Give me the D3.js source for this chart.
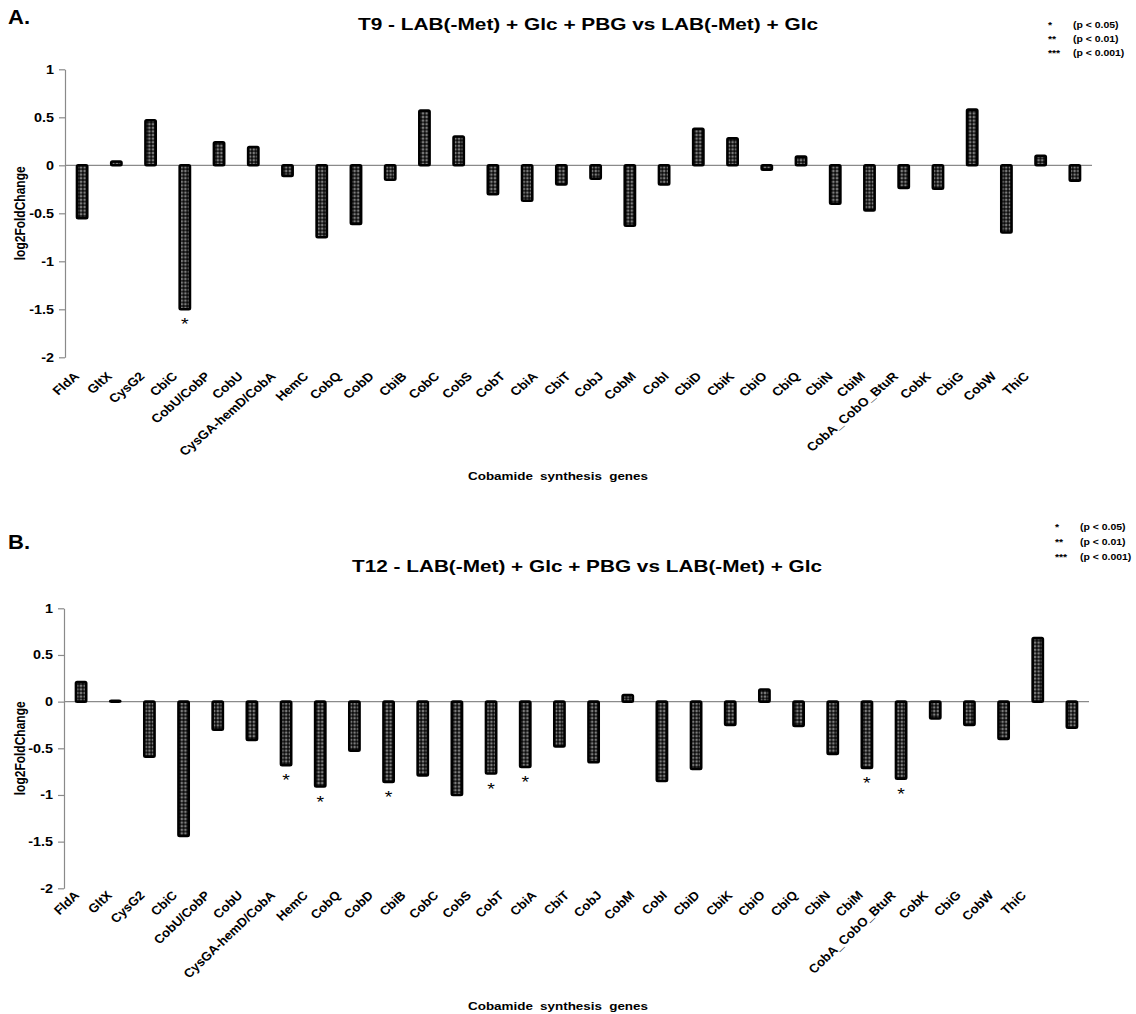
<!DOCTYPE html>
<html>
<head>
<meta charset="utf-8">
<script src="https://cdn.jsdelivr.net/npm/d3@7/dist/d3.min.js"></script>
<style>
  html, body { margin: 0; padding: 0; background: #fff; }
  svg { display: block; font-family: "Liberation Sans", Arial, sans-serif; }
</style>
</head>
<body>
<svg id="chart" width="1136" height="1014"></svg>
<script>
// Cobamide synthesis genes (x categories, shared by both panels)
const genes = ["FldA", "GltX", "CysG2", "CbiC", "CobU/CobP", "CobU", "CysGA-hemD/CobA",
  "HemC", "CobQ", "CobD", "CbiB", "CobC", "CobS", "CobT", "CbiA", "CbiT", "CobJ", "CobM",
  "CobI", "CbiD", "CbiK", "CbiO", "CbiQ", "CbiN", "CbiM", "CobA_CobO_BtuR", "CobK", "CbiG",
  "CobW", "ThiC"];

// log2 fold change at T9
const log2fcT9 = [-0.55, 0.04, 0.47, -1.50, 0.24, 0.19, -0.11, -0.75, -0.61, -0.15, 0.57,
  0.30, -0.30, -0.37, -0.20, -0.14, -0.63, -0.20, 0.38, 0.28, -0.045, 0.09, -0.40, -0.47,
  -0.235, -0.245, 0.58, -0.70, 0.10, -0.16];

// log2 fold change at T12
const log2fcT12 = [0.21, 0.01, -0.59, -1.44, -0.30, -0.41, -0.68, -0.91, -0.525, -0.86,
  -0.79, -1.00, -0.77, -0.70, -0.48, -0.65, 0.07, -0.85, -0.72, -0.25, 0.13, -0.26, -0.56,
  -0.71, -0.825, -0.18, -0.25, -0.40, 0.68, -0.28];

// significance markers per gene
const sigT9 = ["", "", "", "*", "", "", "", "", "", "", "", "", "", "", "", "", "", "", "",
  "", "", "", "", "", "", "", "", "", "", ""];
const sigT12 = ["", "", "", "", "", "", "*", "*", "", "*", "", "", "*", "*", "", "", "", "",
  "", "", "", "", "", "*", "*", "", "", "", "", ""];

// y-axis ticks
const yTicks = [1, 0.5, 0, -0.5, -1, -1.5, -2];
const yTickLabels = ["1", "0.5", "0", "-0.5", "-1", "-1.5", "-2"];

// significance legend
const legendStars = ["*", "**", "***"];
const legendText = ["(p < 0.05)", "(p < 0.01)", "(p < 0.001)"];

const panelTitles = [
  "T9 - LAB(-Met) + Glc + PBG vs LAB(-Met) + Glc",
  "T12 - LAB(-Met) + Glc + PBG vs LAB(-Met) + Glc"
];
const panelLetters = ["A.", "B."];
const xTitle = "Cobamide synthesis genes";
const yTitle = "log2FoldChange";

const svg = d3.select("#chart");

// stippled bar fill
const defs = svg.append("defs");
const pat = defs.append("pattern")
  .attr("id", "stipple")
  .attr("patternUnits", "userSpaceOnUse")
  .attr("width", 3.6).attr("height", 3.6);
pat.append("rect").attr("width", 3.6).attr("height", 3.6).attr("fill", "#0d0d0d");
pat.append("circle").attr("cx", 1.8).attr("cy", 1.8).attr("r", 0.9)
  .attr("fill", "none").attr("stroke", "#d6d6d6").attr("stroke-width", 0.6);

// horizontal text, widened
function wideText(g, x, y, str, size, sx, anchor = "start") {
  return g.append("text")
    .attr("transform", `translate(${x},${y}) scale(${sx},1)`)
    .attr("text-anchor", anchor)
    .attr("font-size", size)
    .attr("font-weight", "bold")
    .text(str);
}

// horizontal text stretched to a set width
function fitText(g, x, y, str, size, width, anchor = "middle") {
  return g.append("text")
    .attr("x", x).attr("y", y)
    .attr("text-anchor", anchor)
    .attr("font-size", size).attr("font-weight", "bold")
    .attr("textLength", width).attr("lengthAdjust", "spacingAndGlyphs")
    .text(str);
}

const panels = [
  { letter: panelLetters[0], title: panelTitles[0], values: log2fcT9, sig: sigT9,
    x0: 65, x1: 1092, yTop: 69.3, yBot: 357.3, letterY: 24, titleX: 588, titleY: 30,
    titleW: 460, legX: 1048, legY: 28, legDy: 14.2, xTitleY: 480,
    labL: 80, labR: 1030, labY: 377, labSX: 1.15, labSize: 12 },
  { letter: panelLetters[1], title: panelTitles[1], values: log2fcT12, sig: sigT12,
    x0: 64, x1: 1089, yTop: 608.3, yBot: 888.3, letterY: 549, titleX: 587, titleY: 571.5,
    titleW: 470, legX: 1055, legY: 529.5, legDy: 15, xTitleY: 1009.5,
    labL: 80, labR: 1027, labY: 896, labSX: 1.05, labSize: 12.5 }
];

panels.forEach(p => {
  const g = svg.append("g");

  const x = d3.scaleBand().domain(genes).range([p.x0, p.x1]).paddingInner(0.7).paddingOuter(0.35);
  const y = d3.scaleLinear().domain([-2, 1]).range([p.yBot, p.yTop]);
  // category label anchors
  const xl = d3.scalePoint().domain(genes).range([p.labL, p.labR]);

  // panel letter
  wideText(g, 8, p.letterY, p.letter, 20, 1.1);

  // title
  fitText(g, p.titleX, p.titleY, p.title, 16.5, p.titleW);

  // legend
  legendStars.forEach((s, i) => {
    wideText(g, p.legX, p.legY + i * p.legDy, s, 9.5, 1.1);
    wideText(g, p.legX + 25, p.legY + i * p.legDy, legendText[i], 9.5, 1.1);
  });

  // y axis
  const yAxis = d3.axisLeft(y).tickValues(yTicks)
    .tickFormat((d, i) => yTickLabels[i]).tickSize(6).tickSizeOuter(0);
  const ya = g.append("g").attr("transform", `translate(${p.x0},0)`).call(yAxis);
  ya.select(".domain").attr("stroke", "#8a8a8a").attr("stroke-width", 1.2);
  ya.selectAll(".tick line").attr("stroke", "#8a8a8a").attr("stroke-width", 1.2);
  ya.selectAll(".tick text").attr("font-size", 12).attr("font-weight", "bold")
    .attr("font-family", "Liberation Sans, Arial, sans-serif").attr("fill", "#000")
    .attr("x", -11 / 1.2).attr("transform", "scale(1.2,1)");

  // zero line
  g.append("line").attr("x1", p.x0).attr("x2", p.x1)
    .attr("y1", y(0)).attr("y2", y(0))
    .attr("stroke", "#8a8a8a").attr("stroke-width", 1.3);

  // bars
  g.selectAll("rect.bar").data(genes).enter().append("rect")
    .attr("class", "bar")
    .attr("x", d => x(d))
    .attr("width", x.bandwidth())
    .attr("y", (d, i) => y(Math.max(0, p.values[i])))
    .attr("height", (d, i) => Math.abs(y(p.values[i]) - y(0)))
    .attr("rx", 1.2)
    .attr("fill", "url(#stipple)")
    .attr("stroke", "#000").attr("stroke-width", 2.6);

  // significance stars
  g.selectAll("text.sig").data(genes).enter().append("text")
    .attr("class", "sig")
    .attr("transform", (d, i) =>
      `translate(${x(d) + x.bandwidth() / 2},${y(Math.min(0, p.values[i])) + 21}) scale(1.15,1)`)
    .attr("text-anchor", "middle").attr("font-size", 17)
    .text((d, i) => p.sig[i]);

  // x tick labels (rotated)
  g.selectAll("text.xl").data(genes).enter().append("text")
    .attr("class", "xl")
    .attr("transform", d => `translate(${xl(d)},${p.labY}) scale(${p.labSX},1) rotate(-45)`)
    .attr("text-anchor", "end").attr("font-size", p.labSize).attr("font-weight", "bold")
    .text(d => d);

  // axis titles
  g.append("text").attr("x", 558).attr("y", p.xTitleY)
    .attr("text-anchor", "middle").attr("font-size", 11.5).attr("font-weight", "bold")
    .attr("word-spacing", 3)
    .attr("textLength", 180).attr("lengthAdjust", "spacingAndGlyphs")
    .text(xTitle);

  g.append("text")
    .attr("transform", `translate(25,${(p.yTop + p.yBot) / 2}) scale(1.15,1) rotate(-90)`)
    .attr("text-anchor", "middle").attr("font-size", 12).attr("font-weight", "bold")
    .text(yTitle);
});
</script>
</body>
</html>
